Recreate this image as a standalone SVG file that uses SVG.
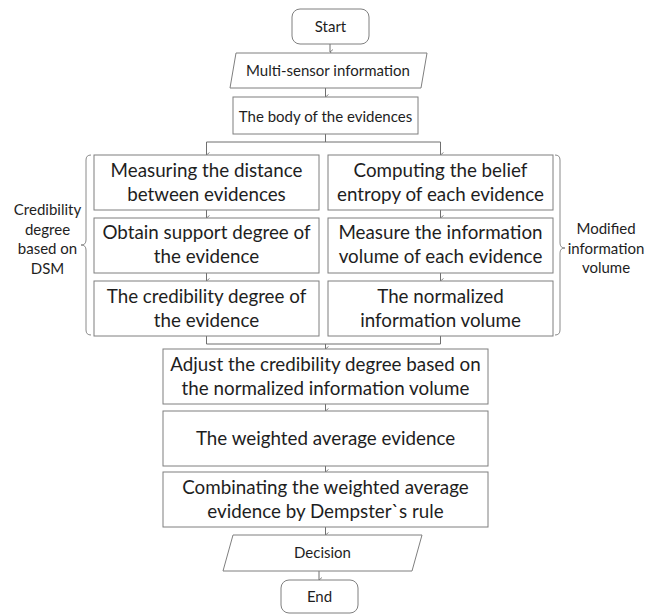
<svg xmlns="http://www.w3.org/2000/svg" width="656" height="615" viewBox="0 0 656 615">
<defs>
<style>
.bx{fill:#fff;stroke:#7f7f7f;stroke-width:1}
.cn{fill:none;stroke:#6f6f6f;stroke-width:1}
.br{fill:none;stroke:#8a8a8a;stroke-width:1}
text{font-family:Lato,"Liberation Sans",sans-serif;fill:#1e1e1e;text-anchor:middle}
.s{font-size:15px}
.m{font-size:18.8px}
</style>
<marker id="ah" markerUnits="userSpaceOnUse" markerWidth="8" markerHeight="6" refX="3" refY="5" orient="auto-start-reverse" viewBox="0 0 6 6">
<path d="M0.5,2 L3,5 L5.5,2" fill="none" stroke="#6f6f6f" stroke-width="0.8"/>
</marker>
</defs>
<rect width="656" height="615" fill="#fff"/>

<g id="connectors">
<line class="cn" x1="330" y1="44" x2="330" y2="52" marker-end="url(#ah)"/>
<line class="cn" x1="325.5" y1="88" x2="325.5" y2="97" marker-end="url(#ah)"/>
<polyline class="cn" points="325.5,134 325.5,142"/>
<polyline class="cn" points="206.5,155 206.5,142 440.5,142 440.5,155"/>
<line class="cn" x1="206.5" y1="142" x2="206.5" y2="155" marker-end="url(#ah)"/>
<line class="cn" x1="440.5" y1="142" x2="440.5" y2="155" marker-end="url(#ah)"/>
<line class="cn" x1="206.5" y1="210" x2="206.5" y2="218" marker-end="url(#ah)"/>
<line class="cn" x1="206.5" y1="273" x2="206.5" y2="281" marker-end="url(#ah)"/>
<line class="cn" x1="440.5" y1="210" x2="440.5" y2="218" marker-end="url(#ah)"/>
<line class="cn" x1="440.5" y1="273" x2="440.5" y2="281" marker-end="url(#ah)"/>
<polyline class="cn" points="206.5,336 206.5,344 440.5,344 440.5,336"/>
<line class="cn" x1="325.5" y1="344" x2="325.5" y2="349" marker-end="url(#ah)"/>
<line class="cn" x1="325.5" y1="404" x2="325.5" y2="411" marker-end="url(#ah)"/>
<line class="cn" x1="325.5" y1="466" x2="325.5" y2="472" marker-end="url(#ah)"/>
<line class="cn" x1="325.5" y1="527" x2="325.5" y2="535" marker-end="url(#ah)"/>
<line class="cn" x1="319" y1="571" x2="319" y2="580" marker-end="url(#ah)"/>
</g>

<g id="start"><rect class="bx" x="292" y="9" width="77" height="35" rx="8"/><text class="s" x="330.5" y="31.5">Start</text></g>
<g id="multi-sensor"><polygon class="bx" points="236,53 427,53 421,88 230,88"/><text class="s" x="328" y="75.5">Multi-sensor information</text></g>
<g id="body"><rect class="bx" x="233" y="97" width="185" height="37"/><text class="s" x="325.5" y="121.5">The body of the evidences</text></g>

<g id="measuring-distance"><rect class="bx" x="94" y="155" width="225" height="55"/><text class="m" x="206.5" y="176.5">Measuring the distance</text><text class="m" x="206.5" y="200.5">between evidences</text></g>
<g id="support-degree"><rect class="bx" x="94" y="218" width="225" height="55"/><text class="m" x="206.5" y="239">Obtain support degree of</text><text class="m" x="206.5" y="263">the evidence</text></g>
<g id="credibility-degree"><rect class="bx" x="94" y="281" width="225" height="55"/><text class="m" x="206.5" y="303">The credibility degree of</text><text class="m" x="206.5" y="327">the evidence</text></g>

<g id="belief-entropy"><rect class="bx" x="328" y="155" width="225" height="55"/><text class="m" x="440.5" y="176.5">Computing the belief</text><text class="m" x="440.5" y="200.5">entropy of each evidence</text></g>
<g id="information-volume"><rect class="bx" x="328" y="218" width="225" height="55"/><text class="m" x="440.5" y="239">Measure the information</text><text class="m" x="440.5" y="263">volume of each evidence</text></g>
<g id="normalized-volume"><rect class="bx" x="328" y="281" width="225" height="55"/><text class="m" x="440.5" y="303">The normalized</text><text class="m" x="440.5" y="327">information volume</text></g>

<g id="left-brace"><path class="br" d="M91,155 Q86,155 86,160 L86,240 Q86,245 81,245 Q86,245 86,250 L86,330 Q86,335 91,335"/><text class="s" x="47.5" y="215">Credibility</text><text class="s" x="47.5" y="234.5">degree</text><text class="s" x="47.5" y="254">based on</text><text class="s" x="47.5" y="273.5">DSM</text></g>
<g id="right-brace"><path class="br" d="M555,155 Q560,155 560,160 L560,243 Q560,248 565,248 Q560,248 560,253 L560,330 Q560,335 555,335"/><text class="s" x="606" y="234">Modified</text><text class="s" x="606" y="253.5">information</text><text class="s" x="606" y="273">volume</text></g>

<g id="adjust"><rect class="bx" x="163" y="349" width="325" height="55"/><text class="m" x="325.5" y="371">Adjust the credibility degree based on</text><text class="m" x="325.5" y="395">the normalized information volume</text></g>
<g id="weighted-average"><rect class="bx" x="163" y="411" width="325" height="55"/><text class="m" x="325.5" y="444.5">The weighted average evidence</text></g>
<g id="combination"><rect class="bx" x="163" y="472" width="325" height="55"/><text class="m" x="325.5" y="494">Combinating the weighted average</text><text class="m" x="325.5" y="518">evidence by Dempster`s rule</text></g>
<g id="decision"><polygon class="bx" points="233,535 422,535 412,571 223,571"/><text class="s" x="322.5" y="558">Decision</text></g>
<g id="end"><rect class="bx" x="281" y="580" width="77" height="33" rx="8"/><text class="s" x="319.5" y="601.5">End</text></g>
</svg>
